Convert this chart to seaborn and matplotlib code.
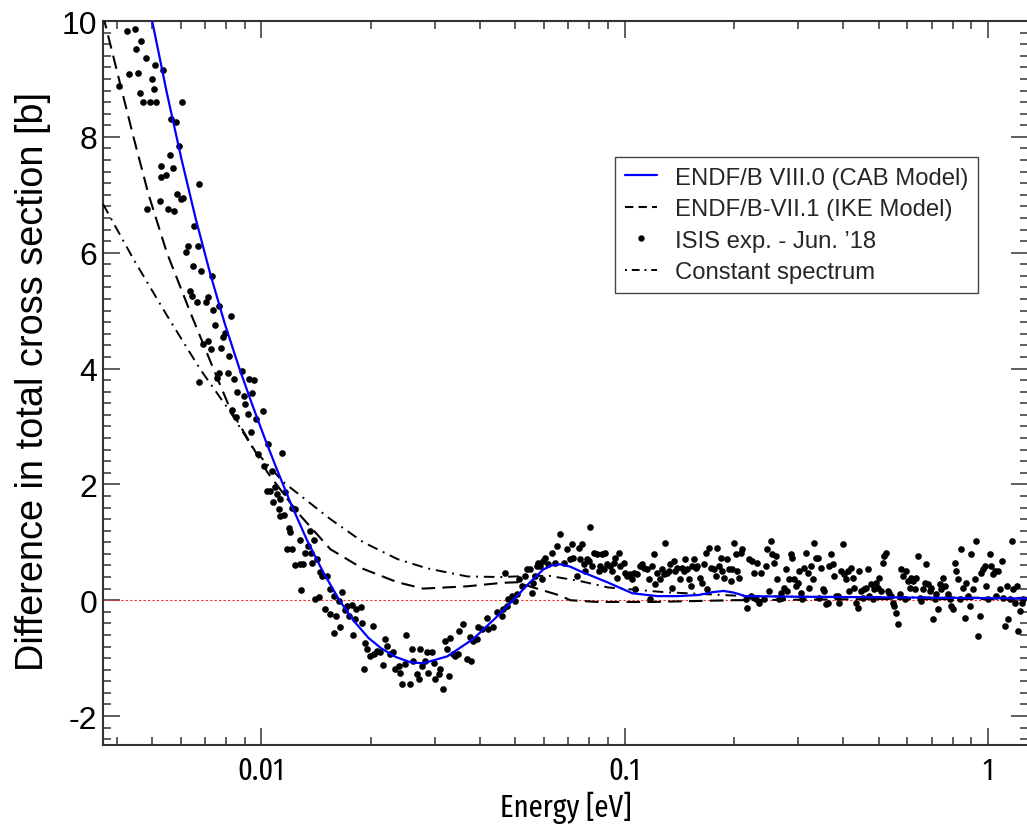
import os
import numpy as np
import matplotlib
matplotlib.use("Agg")
import matplotlib.pyplot as plt
from matplotlib import font_manager as fm
from matplotlib.ticker import FixedLocator, LogLocator, MultipleLocator, FuncFormatter, NullFormatter
from matplotlib.lines import Line2D
import seaborn as sns

# ---------------- data ----------------
# ENDF/B VIII.0 (CAB model)
cab_energy = [0.005012, 0.005495, 0.006026, 0.006607, 0.007244, 0.007943, 0.008710, 0.009441, 0.010233, 0.011092,
              0.012023, 0.013335, 0.014791, 0.016406, 0.017989, 0.019724, 0.021380, 0.023442, 0.025704, 0.027861,
              0.0325, 0.0383, 0.0446, 0.0493, 0.0549, 0.0597, 0.0631, 0.0665, 0.0708, 0.0755,
              0.0896, 0.105, 0.123, 0.14, 0.16, 0.175, 0.187, 0.2, 0.215, 0.3,
              0.5, 1.3]
cab_diff = [10.0, 8.77, 7.63, 6.58, 5.63, 4.77, 4.0, 3.38, 2.79, 2.23,
            1.69, 1.05, 0.49, 0.0, -0.36, -0.65, -0.83, -0.98, -1.07, -1.09,
            -0.97, -0.67, -0.28, 0.0, 0.31, 0.53, 0.60, 0.62, 0.58, 0.50,
            0.31, 0.12, 0.07, 0.07, 0.09, 0.14, 0.16, 0.13, 0.07, 0.06,
            0.05, 0.03]

# ENDF/B-VII.1 (IKE model)
ike_energy = [0.00367, 0.00445, 0.0049, 0.0055, 0.0064, 0.00738, 0.00822, 0.0104, 0.01257, 0.0155,
              0.0191, 0.0237, 0.0279, 0.0369, 0.0460, 0.0506, 0.056, 0.0665, 0.0708, 0.084,
              0.12, 0.2, 0.5, 1.3]
ike_diff = [10.1, 8.0, 7.0, 6.0, 4.95, 4.0, 3.30, 2.21, 1.52, 0.88,
            0.54, 0.31, 0.20, 0.24, 0.30, 0.31, 0.22, 0.08, 0.0, -0.03,
            -0.03, 0.0, 0.02, 0.02]

# Constant spectrum
const_energy = [0.00367, 0.00445, 0.00551, 0.00679, 0.00822, 0.0095, 0.0115, 0.0155, 0.0191, 0.0237,
                0.0286, 0.0369, 0.0455, 0.055, 0.062, 0.0755, 0.09, 0.128, 0.2, 0.3, 0.6, 1.3]
const_diff = [6.84, 5.89, 4.91, 3.99, 3.25, 2.62, 2.04, 1.40, 1.0, 0.71,
              0.55, 0.41, 0.40, 0.42, 0.42, 0.33, 0.22, 0.14, 0.08, 0.06, 0.05, 0.04]

# ISIS experiment - Jun. '18
isis_energy_low = [0.00427, 0.00450, 0.00467, 0.00453, 0.00482, 0.00511, 0.00536, 0.00432, 0.00458, 0.00501,
                   0.00506, 0.00463, 0.00473, 0.00495, 0.00514, 0.00605, 0.00406, 0.00564, 0.00583, 0.00595,
                   0.00560, 0.00530, 0.00571, 0.00531, 0.00548, 0.00675, 0.00486, 0.00526, 0.00555, 0.00575,
                   0.00587, 0.00600, 0.00609, 0.00654, 0.00619, 0.00628, 0.00670, 0.00649, 0.00683, 0.00730,
                   0.00637, 0.00645, 0.00664, 0.00703, 0.00715, 0.00739, 0.00766, 0.00824, 0.00793, 0.00747,
                   0.00690, 0.00713, 0.00727, 0.00785, 0.00776, 0.00815, 0.00676, 0.00758, 0.00763, 0.00810,
                   0.00839, 0.00883, 0.00925, 0.00956, 0.00859, 0.00896, 0.00945, 0.00902, 0.00919, 0.01009,
                   0.00832, 0.00853]
isis_diff_low = [9.82, 9.86, 9.66, 9.52, 9.36, 9.24, 9.15, 9.08, 9.11, 9.00,
                 8.83, 8.76, 8.60, 8.60, 8.60, 8.61, 8.87, 8.31, 8.25, 7.85,
                 7.69, 7.50, 7.46, 7.31, 7.34, 7.18, 6.76, 6.90, 6.76, 6.72,
                 7.01, 6.93, 6.94, 6.46, 6.02, 6.12, 6.12, 5.77, 5.69, 5.60,
                 5.34, 5.26, 5.15, 5.15, 5.23, 5.01, 5.08, 4.91, 4.61, 4.76,
                 4.42, 4.48, 4.34, 4.54, 4.36, 4.22, 3.76, 3.83, 3.92, 3.93,
                 3.82, 3.96, 3.82, 3.80, 3.59, 3.53, 3.57, 3.39, 3.21, 3.27,
                 3.29, 3.17]

isis_energy_mid = [0.00969, 0.00937, 0.01043, 0.01140, 0.00977, 0.01015, 0.01069, 0.01036, 0.01059, 0.01093,
                   0.01104, 0.01128, 0.01077, 0.01116, 0.01152, 0.01128, 0.01215, 0.01240, 0.01164, 0.01189,
                   0.01202, 0.01280, 0.01359, 0.01393, 0.01344, 0.01177, 0.01215, 0.01321, 0.01372, 0.01240,
                   0.01280, 0.01302, 0.01378, 0.01423, 0.01453, 0.01469, 0.01516, 0.01286, 0.01408, 0.01438,
                   0.01542, 0.01667, 0.01585, 0.01632, 0.01721, 0.01777, 0.01825, 0.01884, 0.01500, 0.01548,
                   0.01608, 0.01702, 0.01749, 0.01814, 0.01892, 0.02029, 0.01649]
isis_diff_mid = [3.13, 2.91, 2.69, 2.55, 2.52, 2.31, 2.23, 1.89, 1.89, 1.95,
                 1.83, 1.74, 1.69, 1.58, 1.47, 1.46, 1.60, 1.57, 1.86, 1.24,
                 1.18, 1.04, 1.20, 1.04, 0.93, 0.88, 0.88, 0.82, 0.82, 0.61,
                 0.62, 0.62, 0.65, 0.71, 0.49, 0.42, 0.41, 0.17, 0.02, 0.06,
                 0.20, 0.15, 0.07, -0.01, -0.10, -0.09, -0.16, -0.12, -0.16, -0.24,
                 -0.28, -0.17, -0.28, -0.32, -0.40, -0.44, -0.46]

isis_energy_dip = [0.01784, 0.01581, 0.01912, 0.01932, 0.01953, 0.01995, 0.02037, 0.02080, 0.02125, 0.02170,
                   0.02193, 0.02217, 0.02264, 0.02312, 0.02337, 0.02387, 0.02412, 0.02438, 0.02489, 0.02505,
                   0.02570, 0.02597, 0.02624, 0.02681, 0.02709, 0.02738, 0.02767, 0.02826, 0.02855, 0.02886,
                   0.02948, 0.02979, 0.03011, 0.03075, 0.03107, 0.03160, 0.03208, 0.03242, 0.03276, 0.03311,
                   0.03381, 0.03418, 0.03490, 0.03512, 0.03601, 0.03680, 0.03758, 0.03775, 0.03837, 0.03921,
                   0.03961, 0.04047, 0.04177, 0.04220, 0.04355, 0.04450]
isis_diff_dip = [-0.60, -0.56, -1.19, -0.74, -0.85, -0.96, -0.93, -0.88, -0.90, -1.12,
                 -0.67, -0.79, -0.93, -0.90, -1.19, -1.13, -1.25, -1.44, -1.11, -0.60,
                 -1.45, -0.85, -1.05, -1.28, -1.36, -0.85, -1.13, -1.05, -0.90, -1.25,
                 -0.90, -1.08, -1.36, -1.28, -1.19, -1.54, -0.70, -0.85, -1.31, -0.66,
                 -0.93, -0.96, -0.93, -0.53, -0.41, -1.02, -0.64, -1.05, -0.70, -0.67,
                 -0.47, -0.50, -0.30, -0.50, -0.47, -0.21]

isis_energy_high = [0.0459, 0.0464, 0.0474, 0.0479, 0.0489, 0.0500, 0.0505, 0.0469, 0.0511, 0.0521,
                    0.0533, 0.0538, 0.0550, 0.0555, 0.0561, 0.0567, 0.0573, 0.0579, 0.0586, 0.0592,
                    0.0598, 0.0605, 0.0617, 0.0631, 0.0644, 0.0651, 0.0665, 0.0679, 0.0694, 0.0708,
                    0.0716, 0.0723, 0.0739, 0.0747, 0.0755, 0.0763, 0.0771, 0.0779, 0.0787, 0.0796,
                    0.0804, 0.0813, 0.0821, 0.0839, 0.0848, 0.0857, 0.0866, 0.0875, 0.0885, 0.0894,
                    0.0913, 0.0923, 0.0933, 0.0943, 0.0953, 0.0963, 0.0973, 0.0994, 0.1004, 0.1015,
                    0.1037, 0.1048, 0.1059, 0.1070, 0.1082, 0.1105, 0.1117, 0.1128, 0.1153, 0.1165,
                    0.1177, 0.1190, 0.1202, 0.1215, 0.1228, 0.1254, 0.1268, 0.1281, 0.1295, 0.1309,
                    0.1323, 0.1337, 0.1351, 0.1365, 0.1380, 0.1395, 0.1424, 0.1439, 0.1455, 0.1470,
                    0.1486, 0.1502, 0.1518, 0.1534, 0.1550, 0.1567, 0.1583, 0.1617, 0.1635, 0.1652,
                    0.1670, 0.1687, 0.1705, 0.1723, 0.1760, 0.1779, 0.1798, 0.1817, 0.1836, 0.1856,
                    0.1876, 0.1916, 0.1936, 0.1957, 0.1978, 0.1999, 0.2020, 0.2042, 0.2063, 0.2085,
                    0.2108, 0.2153, 0.2176, 0.2199, 0.2222, 0.2246, 0.2270, 0.2294, 0.2318, 0.2343,
                    0.2368, 0.2419, 0.2444, 0.2471, 0.2497, 0.2523, 0.2550, 0.2577, 0.2605, 0.2633,
                    0.2661, 0.2689, 0.2718, 0.2747, 0.2776, 0.2805, 0.2835, 0.2866, 0.2896, 0.2927,
                    0.2958, 0.2990, 0.3021, 0.3054, 0.3086, 0.3119, 0.3152, 0.3186, 0.3220, 0.3254,
                    0.3289, 0.3324, 0.3359, 0.3395, 0.3431, 0.3468, 0.3505, 0.3542, 0.3580, 0.3618,
                    0.3656, 0.3695, 0.3735, 0.3774, 0.3815, 0.3855, 0.3896, 0.3938, 0.3980, 0.4022,
                    0.4065, 0.4108, 0.4152, 0.4196, 0.4241, 0.4286, 0.4332, 0.4378, 0.4425, 0.4472,
                    0.4519, 0.4567, 0.4616, 0.4665, 0.4715, 0.4765, 0.4816, 0.4867, 0.4919, 0.4971,
                    0.5024, 0.5078, 0.5132, 0.5187, 0.5242, 0.5298, 0.5354, 0.5411, 0.5469, 0.5527,
                    0.5586, 0.5646, 0.5706, 0.5766, 0.5828, 0.5890, 0.5953, 0.6016, 0.6080, 0.6145,
                    0.6210, 0.6277, 0.6343, 0.6411, 0.6479, 0.6548, 0.6618, 0.6689, 0.6760, 0.6832,
                    0.6905, 0.6978, 0.7052, 0.7128, 0.7204, 0.7280, 0.7358, 0.7436, 0.7515, 0.7595,
                    0.7758, 0.7841, 0.7924, 0.8009, 0.8094, 0.8180, 0.8267, 0.8355, 0.8444, 0.8534,
                    0.8625, 0.8717, 0.8810, 0.8904, 0.8999, 0.9095, 0.9192, 0.9289, 0.9388, 0.9488,
                    0.9589, 0.9692, 0.9795, 0.9899, 1.0005, 1.0111, 1.0219, 1.0328, 1.0438, 1.0549,
                    1.0661, 1.0775, 1.0890, 1.1006, 1.1123, 1.1241, 1.1361, 1.1482, 1.1604, 1.1728,
                    1.1853, 1.1979, 1.2107, 1.2236, 1.2366, 1.2498]
isis_diff_high = [-0.271, -0.156, -0.098, 0.017, 0.074, -0.012, 0.103, 0.477, 0.362, 0.247,
                  0.420, 0.535, 0.535, 0.132, 0.305, 0.420, 0.593, 0.650, 0.593, 0.362,
                  0.679, 0.737, 0.621, 0.823, 0.650, 0.938, 1.139, 0.650, 0.880, 0.708,
                  0.967, 0.737, 0.420, 0.909, 0.708, 0.967, 0.621, 0.506, 0.708, 0.679,
                  1.272, 0.593, 0.823, 0.794, 0.506, 0.593, 0.794, 0.535, 0.823, 0.621,
                  0.593, 0.506, 0.650, 0.737, 0.391, 0.823, 0.593, 0.650, 0.477, 0.420,
                  0.449, 0.362, 0.477, 0.190, 0.449, 0.593, 0.621, 0.564, 0.535, 0.362,
                  0.017, 0.593, 0.794, 0.276, 0.477, 0.362, 0.535, 0.449, 0.996, 0.477,
                  0.506, 0.621, 0.218, 0.679, 0.506, 0.564, 0.362, 0.564, 0.506, 0.708,
                  0.535, 0.362, 0.247, 0.593, 0.708, 0.564, 0.593, 0.391, 0.305, 0.621,
                  0.823, 0.190, 0.909, 0.564, 0.535, 0.420, 0.909, 0.593, 0.737, 0.506,
                  0.391, 0.708, 0.535, 0.334, 0.535, 0.996, 0.794, 0.506, 0.391, 0.823,
                  0.880, 0.017, -0.127, 0.708, 0.074, 0.679, 0.477, 0.017, 0.650, -0.041,
                  0.477, 0.017, 0.593, 0.880, 0.161, 1.024, 0.794, 0.650, 0.765, 0.362,
                  0.017, 0.132, 0.046, 0.218, 0.535, 0.161, 0.362, 0.794, 0.737, 0.362,
                  0.247, 0.305, 0.506, 0.132, 0.017, 0.564, 0.823, 0.477, 0.218, 0.593,
                  0.362, 0.996, 0.737, 0.737, 0.046, 0.564, 0.190, 0.161, -0.070, -0.041,
                  0.593, 0.794, 0.621, 0.420, 0.074, 0.074, -0.041, 0.506, 0.967, 0.449,
                  0.362, 0.506, 0.161, 0.564, 0.391, 0.218, -0.041, -0.127, 0.506, 0.161,
                  0.046, 0.190, 0.218, 0.535, 0.074, 0.276, 0.017, 0.190, 0.305, 0.218,
                  0.391, 0.161, 0.650, 0.765, 0.823, 0.161, 0.132, 0.074, -0.041, -0.098,
                  -0.213, -0.415, 0.103, 0.535, 0.420, 0.017, 0.506, 0.334, 0.218, 0.391,
                  0.334, 0.190, 0.391, 0.765, 0.046, -0.012, 0.190, 0.305, 0.621, 0.276,
                  0.161, 0.218, -0.329, 0.017, 0.103, -0.156, 0.276, 0.190, 0.391, 0.247,
                  0.103, 0.017, -0.098, -0.156, 0.650, 0.506, 0.362, 0.017, 0.880, 0.218,
                  -0.300, 0.305, 0.074, -0.098, 0.794, 0.190, 0.362, 1.024, -0.616, -0.271,
                  0.477, 0.535, 0.593, 0.247, 0.017, 0.794, 0.593, 0.449, 0.506, 0.074,
                  0.506, 0.190, 0.679, 0.046, -0.444, 0.247, -0.329, 0.017, 1.024, 0.190,
                  -0.041, 0.247, -0.530, -0.185, -0.041, 0.017]

series_labels = ["ENDF/B VIII.0 (CAB Model)", "ENDF/B-VII.1 (IKE Model)",
                 "ISIS exp. - Jun. \u201918", "Constant spectrum"]
x_tick_values = [0.01, 0.1, 1]
x_tick_labels = ["0.01", "0.1", "1"]

isis_energy = isis_energy_low + isis_energy_mid + isis_energy_dip + isis_energy_high
isis_diff = isis_diff_low + isis_diff_mid + isis_diff_dip + isis_diff_high
assert len(isis_energy) == len(isis_diff)
assert len(cab_energy) == len(cab_diff)

# ---------------- fonts ----------------
def pick_narrow_font():
    bad = ('bold', 'italic', 'oblique', 'light', 'medium', 'thin', 'black',
           'heavy', 'mono', 'serif', 'cjk', 'semibold', 'extrabold')
    best = None
    for f in fm.fontManager.ttflist:
        b = os.path.basename(f.fname).lower()
        if not ('condensed' in b or 'narrow' in b):
            continue
        if any(k in b for k in bad):
            continue
        if 'extracondensed' in b:
            rank = 0
        elif 'ultracondensed' in b:
            rank = 1
        elif 'semicondensed' in b:
            rank = 4
        elif 'condensed' in b:
            rank = 2
        else:
            rank = 3
        if best is None or rank < best[0]:
            best = (rank, f.fname)
    return best

sns.set_theme(style="ticks")
plt.rcParams['font.family'] = ['Liberation Sans', 'DejaVu Sans']
plt.rcParams['axes.unicode_minus'] = False

narrow = pick_narrow_font()
if narrow is not None:
    fp_tick = fm.FontProperties(fname=narrow[1])
    fp_lab = fm.FontProperties(fname=narrow[1])
    xs = 22 if narrow[0] <= 1 else 20
else:
    fp_tick = fm.FontProperties(family='Liberation Sans')
    fp_lab = fm.FontProperties(family='Liberation Sans')
    xs = 17
fp_tick.set_size(xs)
fp_lab.set_size(xs + 0.5)

# ---------------- figure ----------------
fig = plt.figure(figsize=(10.27, 8.29), dpi=100)
ax = fig.add_axes([103 / 1027, 83 / 829, 925.5 / 1027, 724 / 829])
ax.set_xscale('log')

ax.axhline(0, color='#ff2a2a', lw=0.8, ls=(0, (2, 2)), zorder=1)
sns.scatterplot(x=isis_energy, y=isis_diff, ax=ax, color='black', s=23,
                linewidth=0, zorder=2, legend=False)
sns.lineplot(x=const_energy, y=const_diff, ax=ax, color='black', lw=1.4,
             linestyle=(0, (5.5, 3, 1, 3)), sort=False, estimator=None, zorder=3)
sns.lineplot(x=ike_energy, y=ike_diff, ax=ax, color='black', lw=1.5,
             linestyle=(0, (6.5, 3.5)), sort=False, estimator=None, zorder=3)
sns.lineplot(x=cab_energy, y=cab_diff, ax=ax, color='#0000ff', lw=1.6,
             sort=False, estimator=None, zorder=4)

ax.set_xlim(0.00367, 1.292)
ax.set_ylim(-2.5, 10)

ax.xaxis.set_major_locator(FixedLocator(x_tick_values))
ax.xaxis.set_major_formatter(FuncFormatter(lambda v, p: x_tick_labels[x_tick_values.index(v)] if v in x_tick_values else ''))
ax.xaxis.set_minor_locator(LogLocator(base=10, subs=np.arange(2, 10), numticks=30))
ax.xaxis.set_minor_formatter(NullFormatter())
ax.yaxis.set_major_locator(MultipleLocator(2))
ax.yaxis.set_minor_locator(MultipleLocator(0.2))
ax.yaxis.set_major_formatter(FuncFormatter(lambda v, p: f"{v:g}"))

ax.tick_params(which='both', direction='in', top=True, right=True,
               color='#333333', width=1.1)
ax.tick_params(which='major', length=12.5)
ax.tick_params(which='minor', length=6)
ax.tick_params(axis='y', labelsize=23, pad=4, labelcolor='black')
ax.tick_params(axis='x', pad=7, labelcolor='black')
for s in ax.spines.values():
    s.set_color('#333333')
    s.set_linewidth(1.5)

ax.set_xlabel('Energy [eV]', fontproperties=fp_lab, color='black')
ax.xaxis.set_label_coords(0.5, -0.098)
ax.xaxis.label.set_va('baseline')
ax.set_ylabel('Difference in total cross section [b]', fontsize=27, color='black')
ax.yaxis.set_label_coords(-0.056, 0.5035)

handles = [
    Line2D([], [], color='#0000ff', lw=1.6),
    Line2D([], [], color='black', lw=1.5, ls=(0, (4, 2.5))),
    Line2D([], [], color='black', ls='none', marker='o', ms=4.6, mew=0),
    Line2D([], [], color='black', lw=1.4, ls=(0, (1, 2.5, 4, 2.5))),
]
leg = ax.legend(handles, series_labels, loc='upper left', bbox_to_anchor=(0.5532, 0.812),
                borderaxespad=0, fontsize=17.2, frameon=True, fancybox=False,
                edgecolor='#444444', framealpha=1, handlelength=1.35,
                handletextpad=0.75, labelspacing=0.4, borderpad=0.4)
leg.get_frame().set_linewidth(1.0)

fig.canvas.draw()
for lbl in ax.get_xticklabels():
    lbl.set_fontproperties(fp_tick)
    lbl.set_color('black')

# fit the y-label length to the ~577 px it spans in the reference
renderer = fig.canvas.get_renderer()
ylen = ax.yaxis.label.get_window_extent(renderer).height
if ylen > 0:
    ax.yaxis.label.set_fontsize(27 * 578.0 / ylen)

fig.savefig('out.png', dpi=100)
